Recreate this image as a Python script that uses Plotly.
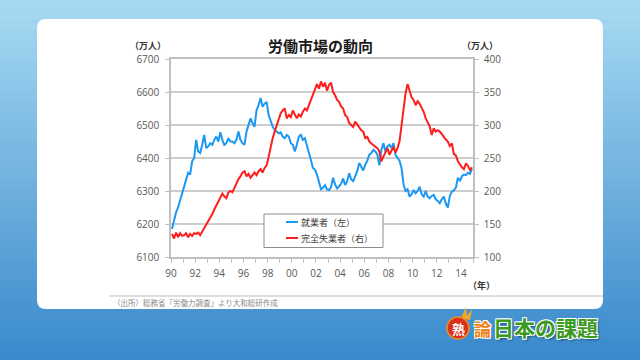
import plotly.graph_objects as go

# ---------------- data (bi-monthly readings, 6 per year, 1990-2014) ----------------
years = list(range(1990, 2015))
employed = [  # 就業者（左）万人
    [6185, 6215, 6235, 6250, 6270, 6290],
    [6310, 6330, 6355, 6350, 6390, 6400],
    [6455, 6420, 6415, 6440, 6470, 6430],
    [6435, 6445, 6440, 6455, 6465, 6450],
    [6478, 6455, 6440, 6445, 6460, 6450],
    [6450, 6445, 6455, 6480, 6455, 6445],
    [6440, 6480, 6500, 6520, 6505, 6495],
    [6545, 6560, 6582, 6555, 6565, 6570],
    [6530, 6510, 6495, 6485, 6480, 6475],
    [6478, 6465, 6460, 6470, 6465, 6445],
    [6440, 6420, 6440, 6465, 6470, 6455],
    [6460, 6435, 6410, 6394, 6370, 6365],
    [6350, 6330, 6305, 6310, 6318, 6305],
    [6303, 6312, 6340, 6320, 6308, 6315],
    [6322, 6338, 6318, 6330, 6354, 6335],
    [6330, 6345, 6360, 6385, 6375, 6362],
    [6380, 6392, 6410, 6415, 6425, 6420],
    [6410, 6378, 6425, 6445, 6420, 6435],
    [6440, 6430, 6445, 6410, 6400, 6392],
    [6370, 6320, 6300, 6305, 6283, 6290],
    [6303, 6293, 6300, 6313, 6290, 6283],
    [6300, 6283, 6278, 6285, 6288, 6275],
    [6270, 6263, 6275, 6283, 6262, 6250],
    [6285, 6298, 6302, 6310, 6340, 6330],
    [6345, 6350, 6348, 6355, 6352, 6368],
]
unemployed = [  # 完全失業者（右）万人
    [135, 128, 137, 130, 136, 132],
    [133, 136, 130, 135, 132, 136],
    [135, 137, 133, 138, 143, 148],
    [153, 158, 165, 172, 178, 182],
    [190, 196, 192, 189, 198, 200],
    [198, 205, 212, 218, 222, 228],
    [230, 222, 226, 220, 224, 228],
    [224, 230, 233, 228, 235, 239],
    [252, 268, 280, 290, 300, 310],
    [318, 322, 325, 310, 315, 312],
    [322, 316, 310, 316, 313, 320],
    [325, 322, 330, 338, 348, 355],
    [362, 355, 366, 358, 364, 352],
    [361, 364, 350, 345, 338, 335],
    [328, 325, 315, 312, 303, 300],
    [297, 305, 300, 295, 292, 290],
    [280, 282, 275, 272, 270, 268],
    [265, 260, 245, 252, 258, 265],
    [255, 262, 267, 258, 265, 275],
    [300, 330, 348, 362, 352, 342],
    [338, 330, 336, 332, 326, 320],
    [310, 305, 298, 285, 295, 290],
    [292, 290, 285, 282, 278, 275],
    [268, 272, 256, 254, 245, 240],
    [236, 233, 242, 238, 232, 236],
]
tick_years = list(range(1990, 2015, 2))
tick_labels = ["90", "92", "94", "96", "98", "00", "02", "04", "06", "08", "10", "12", "14"]
series_names = ["就業者（左）", "完全失業者（右）"]

t = [y + (k + 0.5) / 6 for y in years for k in range(6)]
emp = [v for row in employed for v in row]
une = [v for row in unemployed for v in row]

# ---------------- geometry helpers ----------------
W, H = 640, 360
L, R, T, B = 171, 473, 59, 257
def px(x): return (x - L) / (R - L)
def py(y): return (B - y) / (B - T)

FONT = "Noto Sans CJK JP, sans-serif"
BLUE = "#1C97F2"
RED = "#FF1E1E"
GRAY_AX = "#BFBFBF"

fig = go.Figure()
fig.add_trace(go.Scatter(x=t, y=emp, mode="lines", name=series_names[0],
                         line=dict(color=BLUE, width=2), yaxis="y", showlegend=False))
fig.add_trace(go.Scatter(x=t, y=une, mode="lines", name=series_names[1],
                         line=dict(color=RED, width=2), yaxis="y2", showlegend=False))

shapes = []
# background gradient bands
c0 = (166, 217, 241)
c1 = (58, 138, 204)
n = 36
for i in range(n):
    f = i / (n - 1)
    c = tuple(round(c0[j] + (c1[j] - c0[j]) * f) for j in range(3))
    y0 = i * H / n
    y1 = (i + 1) * H / n + 0.5
    shapes.append(dict(type="rect", xref="paper", yref="paper", layer="below",
                       x0=px(0), x1=px(W), y0=py(y1), y1=py(y0),
                       fillcolor="rgb(%d,%d,%d)" % c, line=dict(width=0)))

# white rounded card
cx0, cx1, cy0, cy1, r = 37, 603, 19, 309, 9
def P(x, y): return "%.5f,%.5f" % (px(x), py(y))
path = ("M " + P(cx0 + r, cy0) + " L " + P(cx1 - r, cy0) + " Q " + P(cx1, cy0) + " " + P(cx1, cy0 + r) +
        " L " + P(cx1, cy1 - r) + " Q " + P(cx1, cy1) + " " + P(cx1 - r, cy1) +
        " L " + P(cx0 + r, cy1) + " Q " + P(cx0, cy1) + " " + P(cx0, cy1 - r) +
        " L " + P(cx0, cy0 + r) + " Q " + P(cx0, cy0) + " " + P(cx0 + r, cy0) + " Z")
shapes.append(dict(type="path", xref="paper", yref="paper", layer="below", path=path,
                   fillcolor="white", line=dict(width=0)))
# separator line
shapes.append(dict(type="line", xref="paper", yref="paper", layer="below",
                   x0=px(109), x1=px(603), y0=py(296), y1=py(296),
                   line=dict(color="#BDBDBD", width=1.2)))
# legend box
shapes.append(dict(type="rect", xref="paper", yref="paper", layer="above",
                   x0=px(264), x1=px(383), y0=py(247.5), y1=py(214),
                   fillcolor="white", line=dict(color="#8C8C8C", width=1)))
shapes.append(dict(type="line", xref="paper", yref="paper", layer="above",
                   x0=px(286), x1=px(298), y0=py(222), y1=py(222),
                   line=dict(color=BLUE, width=2)))
shapes.append(dict(type="line", xref="paper", yref="paper", layer="above",
                   x0=px(286), x1=px(298), y0=py(238), y1=py(238),
                   line=dict(color=RED, width=2)))
# logo circle + flame
shapes.append(dict(type="path", xref="paper", yref="paper", layer="above",
                   path="M " + P(461, 318) + " L " + P(466, 307) + " L " + P(467, 316) +
                        " L " + P(472, 309) + " L " + P(470, 320) + " Z",
                   fillcolor="#F6A623", line=dict(width=0)))
shapes.append(dict(type="circle", xref="paper", yref="paper", layer="above",
                   x0=px(447), x1=px(469), y0=py(339), y1=py(317),
                   fillcolor="#D6321C", line=dict(color="#F08A24", width=1.5)))

ann = []
def text(x, y, s, size, color, bold=False, xanchor="center", shadow=None):
    f = dict(family=FONT, size=size, color=color)
    if bold:
        f["weight"] = "bold"
    if shadow:
        f["shadow"] = shadow
    ann.append(dict(xref="paper", yref="paper", x=px(x), y=py(y), text=s, showarrow=False,
                    xanchor=xanchor, yanchor="middle", font=f))

text(320, 45, "労働市場の動向", 15, "#1A1A1A", bold=True)
text(148, 45, "（万人）", 9, "#333333", bold=True)
text(480, 45, "（万人）", 9, "#333333", bold=True)
text(481, 285, "（年）", 9, "#333333", bold=True)
text(111, 302, "（出所）総務省「労働力調査」より大和総研作成", 7.5, "#8A8A8A", xanchor="left")
text(299, 222, series_names[0], 9, "#404040", xanchor="left")
text(299, 238, series_names[1], 9, "#404040", xanchor="left")
# logo text
text(458, 328, "熟", 13, "white", bold=True)
text(482, 328, "論", 17, "#F08010", bold=True,
     shadow="1px 1px 0 #fff, -1px -1px 0 #fff, 1px -1px 0 #fff, -1px 1px 0 #fff")
text(545, 327, "日本の課題", 21, "#3A9A1E", bold=True,
     shadow="1px 1px 0 #fff, -1px -1px 0 #fff, 1px -1px 0 #fff, -1px 1px 0 #fff, 2px 2px 2px #1d4f7a")

fig.update_layout(
    width=W, height=H,
    margin=dict(l=L, r=W - R, t=T, b=H - B, pad=0),
    paper_bgcolor="#3A8ACC",
    plot_bgcolor="rgba(0,0,0,0)",
    shapes=shapes, annotations=ann, showlegend=False,
    font=dict(family=FONT, size=10, color="#595959"),
    xaxis=dict(range=[1990, 2015], tickvals=tick_years, ticktext=tick_labels,
               showgrid=False, zeroline=False, showline=True, linecolor=GRAY_AX, linewidth=1.5,
               mirror=True, ticks="outside", ticklen=4, tickcolor=GRAY_AX, tickwidth=1,
               minor=dict(dtick=1, tick0=1990, ticks="outside", ticklen=4, tickcolor=GRAY_AX),
               tickfont=dict(size=10, color="#595959", family="Open Sans, sans-serif"),
               ticklabelstandoff=2, fixedrange=True),
    yaxis=dict(range=[6100, 6700], dtick=100, showgrid=True, gridcolor="#CDCDCD", gridwidth=1.5,
               zeroline=False, showline=True, linecolor=GRAY_AX, linewidth=1.5,
               ticks="outside", ticklen=4, tickcolor=GRAY_AX,
               tickfont=dict(size=10, color="#595959", family="Open Sans, sans-serif"),
               ticklabelstandoff=4),
    yaxis2=dict(range=[100, 400], dtick=50, overlaying="y", side="right", showgrid=False,
                zeroline=False, showline=True, linecolor=GRAY_AX, linewidth=1.5,
                ticks="outside", ticklen=4, tickcolor=GRAY_AX,
                tickfont=dict(size=10, color="#595959", family="Open Sans, sans-serif"),
                ticklabelstandoff=3),
)

fig.write_html("out.html", config={"displayModeBar": False},
               post_script="document.body.style.margin='0';")
